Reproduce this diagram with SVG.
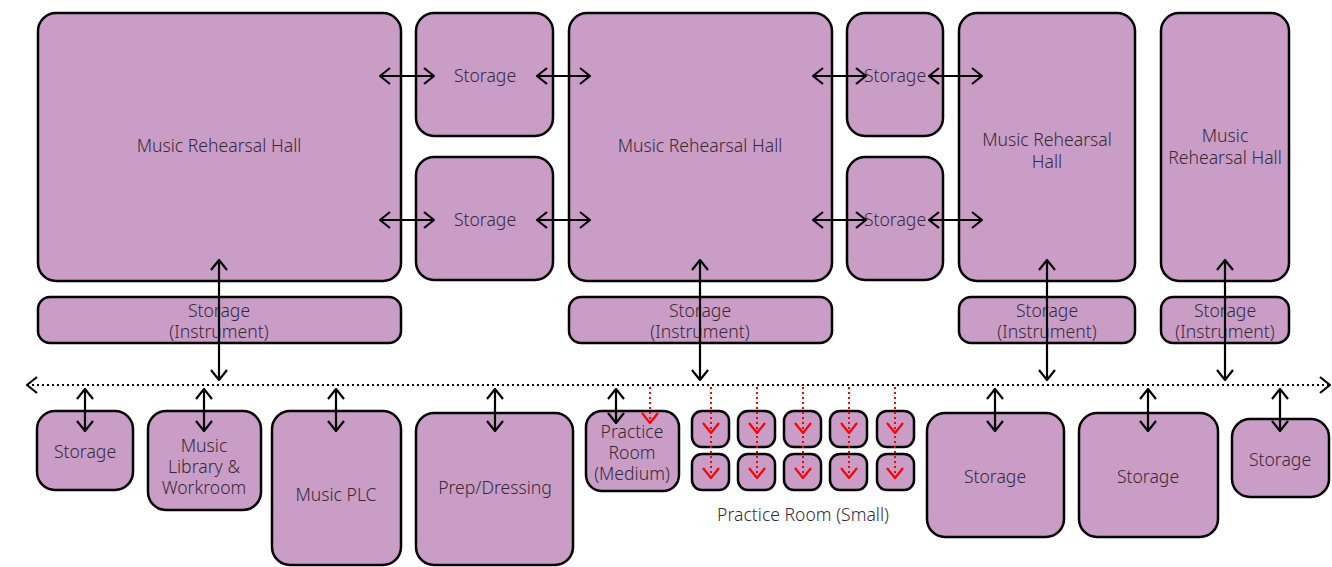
<svg xmlns="http://www.w3.org/2000/svg" width="1332" height="567" viewBox="0 0 1332 567">
<defs>
<marker id="ah" viewBox="0 0 12 18" refX="11" refY="9" markerWidth="12" markerHeight="18" markerUnits="userSpaceOnUse" orient="auto-start-reverse">
<path d="M1,1 L11,9 L1,17" fill="none" stroke="#000" stroke-width="2.2"/>
</marker>
<marker id="rh" viewBox="0 0 12 18" refX="11" refY="9" markerWidth="12" markerHeight="18" markerUnits="userSpaceOnUse" orient="auto">
<path d="M1,1 L11,9 L1,17" fill="none" stroke="#f00" stroke-width="2.2"/>
</marker>
</defs>
<style>
.n{fill:#ca9dc7;stroke:#000;stroke-width:2.5}
.t{font-family:"Noto Sans","Open Sans",sans-serif;font-size:17.6px;font-weight:300;fill:#352b36;text-anchor:middle}
.a{stroke:#000;stroke-width:2.2;fill:none;marker-start:url(#ah);marker-end:url(#ah)}
.d{stroke:#000;stroke-width:2;fill:none;stroke-dasharray:2 3}
.r{stroke:#f00;stroke-width:2;fill:none;stroke-dasharray:2 3}
</style>
<rect width="1332" height="567" fill="#fff"/>
<g id="mrh1"><rect class="n" x="38" y="13" width="363" height="268" rx="18"/><text class="t" x="219" y="152">Music Rehearsal Hall</text></g>
<g id="stA"><rect class="n" x="416" y="13" width="137" height="123" rx="18"/><text class="t" x="485" y="82">Storage</text></g>
<g id="stB"><rect class="n" x="416" y="157" width="137" height="123" rx="18"/><text class="t" x="485" y="226">Storage</text></g>
<g id="mrh2"><rect class="n" x="569" y="13" width="263" height="268" rx="18"/><text class="t" x="700" y="152">Music Rehearsal Hall</text></g>
<g id="stC"><rect class="n" x="847" y="13" width="96" height="123" rx="18"/><text class="t" x="895" y="82">Storage</text></g>
<g id="stD"><rect class="n" x="847" y="157" width="96" height="123" rx="18"/><text class="t" x="895" y="226">Storage</text></g>
<g id="mrh3"><rect class="n" x="959" y="13" width="176" height="268" rx="18"/><text class="t" x="1047" y="146">Music Rehearsal</text><text class="t" x="1047" y="168">Hall</text></g>
<g id="mrh4"><rect class="n" x="1161" y="13" width="128" height="268" rx="18"/><text class="t" x="1225" y="142">Music</text><text class="t" x="1225" y="164">Rehearsal Hall</text></g>
<g id="si1"><rect class="n" x="38" y="297" width="363" height="46" rx="12"/><text class="t" x="219" y="317">Storage</text><text class="t" x="219" y="338">(Instrument)</text></g>
<g id="si2"><rect class="n" x="569" y="297" width="263" height="46" rx="12"/><text class="t" x="700" y="317">Storage</text><text class="t" x="700" y="338">(Instrument)</text></g>
<g id="si3"><rect class="n" x="959" y="297" width="176" height="46" rx="12"/><text class="t" x="1047" y="317">Storage</text><text class="t" x="1047" y="338">(Instrument)</text></g>
<g id="si4"><rect class="n" x="1161" y="297" width="128" height="46" rx="12"/><text class="t" x="1225" y="317">Storage</text><text class="t" x="1225" y="338">(Instrument)</text></g>
<g id="bs1"><rect class="n" x="37" y="411" width="96" height="79" rx="18"/><text class="t" x="85" y="458">Storage</text></g>
<g id="lib"><rect class="n" x="148" y="411" width="113" height="99" rx="18"/><text class="t" x="204" y="452">Music</text><text class="t" x="204" y="473">Library &amp;</text><text class="t" x="204" y="494">Workroom</text></g>
<g id="plc"><rect class="n" x="272" y="411" width="129" height="154" rx="18"/><text class="t" x="336" y="501">Music PLC</text></g>
<g id="prep"><rect class="n" x="416" y="413" width="157" height="152" rx="18"/><text class="t" x="495" y="494">Prep/Dressing</text></g>
<g id="prm"><rect class="n" x="586" y="411" width="93" height="80" rx="16"/><text class="t" x="632" y="438">Practice</text><text class="t" x="632" y="459">Room</text><text class="t" x="632" y="480">(Medium)</text></g>
<g id="prs">
<rect class="n" x="692" y="411" width="37" height="36" rx="10"/><rect class="n" x="738" y="411" width="37" height="36" rx="10"/><rect class="n" x="784" y="411" width="37" height="36" rx="10"/><rect class="n" x="830" y="411" width="37" height="36" rx="10"/><rect class="n" x="877" y="411" width="37" height="36" rx="10"/>
<rect class="n" x="692" y="454" width="37" height="36" rx="10"/><rect class="n" x="738" y="454" width="37" height="36" rx="10"/><rect class="n" x="784" y="454" width="37" height="36" rx="10"/><rect class="n" x="830" y="454" width="37" height="36" rx="10"/><rect class="n" x="877" y="454" width="37" height="36" rx="10"/>
<text class="t" x="803" y="521">Practice Room (Small)</text>
</g>
<g id="bs2"><rect class="n" x="927" y="413" width="137" height="124" rx="18"/><text class="t" x="995" y="483">Storage</text></g>
<g id="bs3"><rect class="n" x="1079" y="413" width="139" height="124" rx="18"/><text class="t" x="1148" y="483">Storage</text></g>
<g id="bs4"><rect class="n" x="1232" y="419" width="97" height="78" rx="18"/><text class="t" x="1280" y="466">Storage</text></g>
<g id="connectors">
<path class="d" d="M27,385 H1330" marker-start="url(#ah)" marker-end="url(#ah)"/>
<path class="a" d="M380,76 H434"/><path class="a" d="M537,76 H590"/><path class="a" d="M813,76 H866"/><path class="a" d="M929,76 H982"/>
<path class="a" d="M380,220 H434"/><path class="a" d="M537,220 H590"/><path class="a" d="M813,220 H866"/><path class="a" d="M929,220 H982"/>
<path class="a" d="M219,260 V380"/><path class="a" d="M700,260 V380"/><path class="a" d="M1047,260 V380"/><path class="a" d="M1225,260 V380"/>
<path class="a" d="M85,389 V431"/><path class="a" d="M204,389 V431"/><path class="a" d="M336,389 V431"/><path class="a" d="M495,389 V431"/><path class="a" d="M616,389 V423"/><path class="a" d="M995,389 V431"/><path class="a" d="M1148,389 V431"/><path class="a" d="M1280,389 V431"/>
<path class="r" d="M650,387 V423" marker-end="url(#rh)"/>
<path class="r" d="M711,387 V433" marker-end="url(#rh)"/><path class="r" d="M757,387 V433" marker-end="url(#rh)"/><path class="r" d="M803,387 V433" marker-end="url(#rh)"/><path class="r" d="M849,387 V433" marker-end="url(#rh)"/><path class="r" d="M895,387 V433" marker-end="url(#rh)"/>
<path class="r" d="M711,436 V478" marker-end="url(#rh)"/><path class="r" d="M757,436 V478" marker-end="url(#rh)"/><path class="r" d="M803,436 V478" marker-end="url(#rh)"/><path class="r" d="M849,436 V478" marker-end="url(#rh)"/><path class="r" d="M895,436 V478" marker-end="url(#rh)"/>
</g>
</svg>
